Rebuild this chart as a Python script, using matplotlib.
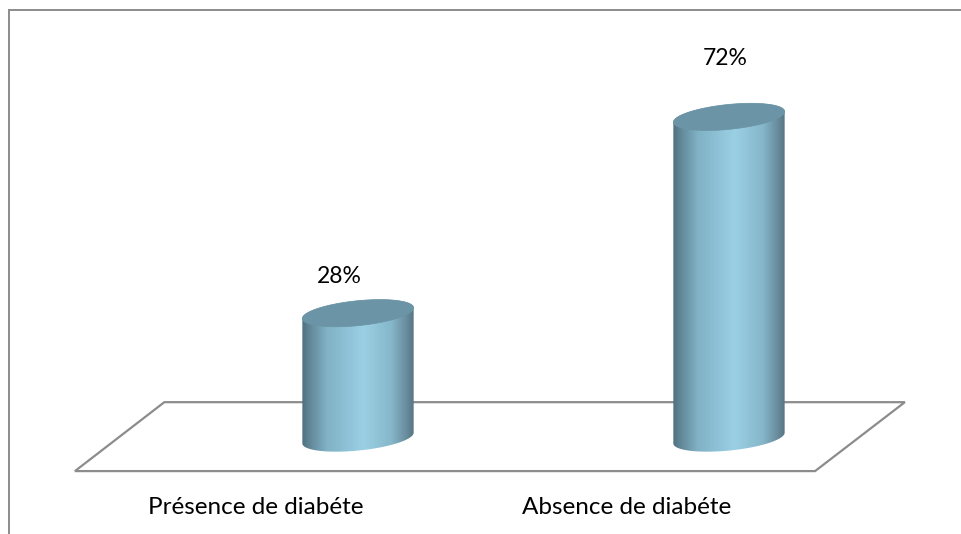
import numpy as np
import matplotlib.pyplot as plt
from matplotlib.colors import LinearSegmentedColormap
from matplotlib.patches import PathPatch, Polygon
from matplotlib.path import Path

plt.rcParams['font.family'] = ['Lato', 'DejaVu Sans']

categories = ['Présence de diabéte', 'Absence de diabéte']
values = [28, 72]
value_labels = ['28%', '72%']
label_gap = [8.3, 13]

GREY = '#8c8c8c'
# shading across the cylinder, left to right
shade = LinearSegmentedColormap.from_list('shade', [
    (0.0, '#4f7080'), (0.07, '#628898'), (0.22, '#80b1c5'), (0.55, '#9bd0e4'),
    (0.8, '#86b7ca'), (0.93, '#6a8e9f'), (1.0, '#567582')])
TOP_COLOR = '#6b94a6'

half_w = 0.15      # half width of a bar, in x units
tilt = 1.2         # how far the ellipse leans, in y units
half_h = 2.8       # half height of the ellipse, in y units


def ellipse_xy(cx, cy, t):
    return cx + half_w * np.cos(t), cy + half_h * np.sin(t) + tilt * np.cos(t)


def draw_cylinder(ax, cx, value):
    # body: lower half of the bottom ellipse, then upper edge at the top
    t1 = np.linspace(np.pi, 2 * np.pi, 60)
    t2 = np.linspace(0, np.pi, 60)
    bx, by = ellipse_xy(cx, 0, t1)
    tx, ty = ellipse_xy(cx, value, t2)
    verts = np.r_[np.c_[bx, by], np.c_[tx, ty], [[bx[0], by[0]]]]
    codes = [Path.MOVETO] + [Path.LINETO] * (len(verts) - 2) + [Path.CLOSEPOLY]
    clip = PathPatch(Path(verts, codes), fc='none', ec='none')
    ax.add_patch(clip)
    im = ax.imshow(np.linspace(0, 1, 256)[None, :], cmap=shade, aspect='auto',
                   extent=(cx - half_w, cx + half_w, -5, value + 5), zorder=2)
    im.set_clip_path(clip)
    # cap
    t = np.linspace(0, 2 * np.pi, 120)
    ex, ey = ellipse_xy(cx, value, t)
    ax.fill(ex, ey, color=TOP_COLOR, lw=0.5, zorder=3)


fig = plt.figure(figsize=(9.62, 5.34), dpi=100)
ax = fig.add_axes([0, 0, 1, 1])
ax.axis('off')

# floor of the 3d chart
floor = Polygon([(-0.522, 8.05), (1.474, 8.05), (1.232, -7.4), (-0.763, -7.4)],
                closed=True, fc='white', ec=GREY, lw=1.6, zorder=1)
ax.add_patch(floor)

x = np.arange(len(categories))
for i, v in enumerate(values):
    draw_cylinder(ax, x[i], v)
    ax.text(x[i] - 0.05 + 0.04 * i, v + label_gap[i], value_labels[i], ha='center',
            va='center', fontsize=16.5, color='black')
    ax.text(x[i] - 0.275, -15.6, categories[i], ha='center', va='center',
            fontsize=17.5, color='black')

ax.set_xlim(-358 / 371, 604 / 371)
ax.set_ylim(-21.5, 98.2)

# chart area border, only top and left show
fig.add_artist(plt.Line2D([0.0098, 0.0098], [0, 0.981], color=GREY, lw=1.4))
fig.add_artist(plt.Line2D([0.0098, 1], [0.981, 0.981], color=GREY, lw=1.4))

fig.savefig('out.png', dpi=100)
